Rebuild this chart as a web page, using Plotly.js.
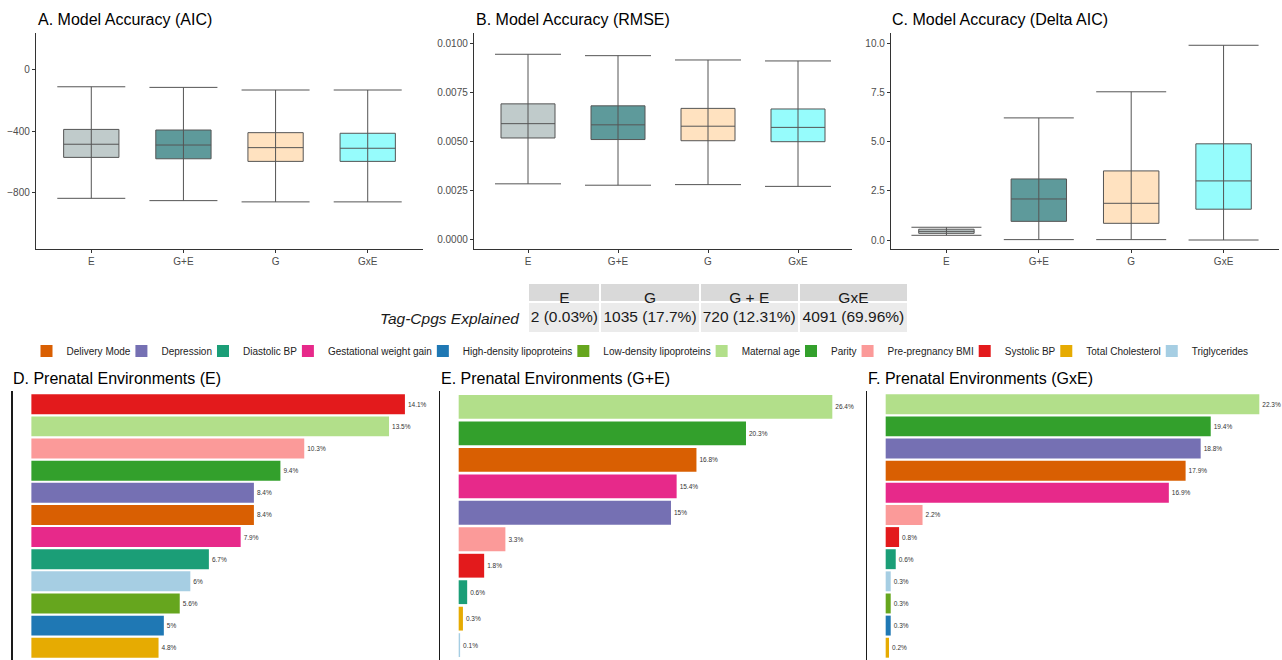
<!DOCTYPE html>
<html>
<head>
<meta charset="utf-8">
<script src="https://cdn.plot.ly/plotly-3.0.1.min.js"></script>
<style>html,body{margin:0;padding:0;background:#fff}#chart{width:1282px;height:660px}</style>
</head>
<body>
<div id="chart"></div>
<script>
// ---------------- data ----------------
const boxCats = ['E', 'G+E', 'G', 'GxE'];

const aicLow  = [-835, -850, -858, -858];
const aicQ1   = [-570, -579, -596, -596];
const aicMed  = [-485, -490, -507, -511];
const aicQ3   = [-389, -393, -410, -414];
const aicHigh = [-113, -117, -134, -134];

const rmseLow  = [0.00283, 0.00276, 0.00279, 0.00270];
const rmseQ1   = [0.00517, 0.00509, 0.00503, 0.00498];
const rmseMed  = [0.00590, 0.00584, 0.00577, 0.00571];
const rmseQ3   = [0.00691, 0.00681, 0.00668, 0.00665];
const rmseHigh = [0.00944, 0.00937, 0.00915, 0.00910];

const daicLow  = [0.24, 0.02, 0.02, 0.00];
const daicQ1   = [0.34, 0.95, 0.85, 1.57];
const daicMed  = [0.44, 2.09, 1.87, 3.01];
const daicQ3   = [0.55, 3.11, 3.52, 4.90];
const daicHigh = [0.65, 6.22, 7.55, 9.92];

const tableGroups   = ['E', 'G', 'G + E', 'GxE'];
const tableCounts   = [2, 1035, 720, 4091];
const tablePercents = [0.03, 17.7, 12.31, 69.96];
const tableRowLabel = 'Tag-Cpgs Explained';

const envCategories = ['Delivery Mode', 'Depression', 'Diastolic BP', 'Gestational weight gain',
  'High-density lipoproteins', 'Low-density lipoproteins', 'Maternal age', 'Parity',
  'Pre-pregnancy BMI', 'Systolic BP', 'Total Cholesterol', 'Triglycerides'];
const envColors = ['#d95f02', '#7570b3', '#1b9e77', '#e7298a', '#1f78b4', '#66a61e',
  '#b2df8a', '#33a02c', '#fb9a99', '#e31a1c', '#e6ab02', '#a6cee3'];

const dEnv = ['Systolic BP', 'Maternal age', 'Pre-pregnancy BMI', 'Parity', 'Depression', 'Delivery Mode',
  'Gestational weight gain', 'Diastolic BP', 'Triglycerides', 'Low-density lipoproteins',
  'High-density lipoproteins', 'Total Cholesterol'];
const dPct = [14.1, 13.5, 10.3, 9.4, 8.4, 8.4, 7.9, 6.7, 6, 5.6, 5, 4.8];

const eEnv = ['Maternal age', 'Parity', 'Delivery Mode', 'Gestational weight gain', 'Depression',
  'Pre-pregnancy BMI', 'Systolic BP', 'Diastolic BP', 'Total Cholesterol', 'Triglycerides'];
const ePct = [26.4, 20.3, 16.8, 15.4, 15, 3.3, 1.8, 0.6, 0.3, 0.1];

const fEnv = ['Maternal age', 'Parity', 'Depression', 'Delivery Mode', 'Gestational weight gain',
  'Pre-pregnancy BMI', 'Systolic BP', 'Diastolic BP', 'Triglycerides', 'Low-density lipoproteins',
  'High-density lipoproteins', 'Total Cholesterol'];
const fPct = [22.3, 19.4, 18.8, 17.9, 16.9, 2.2, 0.8, 0.6, 0.3, 0.3, 0.3, 0.2];

// ---------------- styling / layout helpers ----------------
const W = 1282, H = 660;
const FONT = 'Liberation Sans, Arial, sans-serif';
const px = x => x / W;
const py = y => 1 - y / H;
const nb = s => String(s).replace(/ /g, '\u00a0');
const boxFills = ['rgba(158,175,175,0.65)', 'rgba(8,100,102,0.65)', 'rgba(255,211,158,0.65)', 'rgba(94,251,251,0.65)'];

const traces = [];

const boxPanels = [
  {xa: 'x', ya: 'y', lo: aicLow, q1: aicQ1, med: aicMed, q3: aicQ3, hi: aicHigh, cap: 34},
  {xa: 'x2', ya: 'y2', lo: rmseLow, q1: rmseQ1, med: rmseMed, q3: rmseQ3, hi: rmseHigh, cap: 33},
  {xa: 'x3', ya: 'y3', lo: daicLow, q1: daicQ1, med: daicMed, q3: daicQ3, hi: daicHigh, cap: 35}
];
boxPanels.forEach(p => {
  traces.push({
    type: 'scatter', mode: 'markers', x: boxCats, y: p.med, xaxis: p.xa, yaxis: p.ya,
    marker: {size: 1, opacity: 0}, showlegend: false, hoverinfo: 'skip',
    error_y: {type: 'data', symmetric: false,
      array: p.hi.map((v, i) => v - p.med[i]), arrayminus: p.med.map((v, i) => v - p.lo[i]),
      width: p.cap, thickness: 1, color: '#555'}
  });
  boxCats.forEach((c, i) => {
    traces.push({
      type: 'box', x: [c], q1: [p.q1[i]], median: [p.med[i]], q3: [p.q3[i]],
      lowerfence: [p.q1[i]], upperfence: [p.q3[i]], xaxis: p.xa, yaxis: p.ya,
      fillcolor: boxFills[i], line: {color: '#555', width: 1}, width: 0.6, whiskerwidth: 0,
      showlegend: false, hoverinfo: 'skip', name: c
    });
  });
});

// legend entry widths measured from the label text
const LEG_FONT = 10;
const ctx = document.createElement('canvas').getContext('2d');
ctx.font = LEG_FONT + 'px "Liberation Sans"';
const tw = s => ctx.measureText(s).width;

const barPanels = [
  {xa: 'x4', ya: 'y4', cats: dEnv, vals: dPct},
  {xa: 'x5', ya: 'y5', cats: eEnv, vals: ePct},
  {xa: 'x6', ya: 'y6', cats: fEnv, vals: fPct}
];
envCategories.forEach((c, ci) => {
  barPanels.forEach((p, pi) => {
    const k = p.cats.indexOf(c);
    if (k < 0) return;
    traces.push({
      type: 'bar', orientation: 'h', x: [p.vals[k]], y: [c], xaxis: p.xa, yaxis: p.ya,
      width: 0.9, marker: {color: envColors[ci], line: {width: 0}},
      text: [p.vals[k] + '%'], textposition: 'outside', textangle: 0, constraintext: 'none',
      cliponaxis: false, textfont: {size: 6.5, color: '#333'},
      name: c, legendgroup: c, showlegend: pi === 0,
      legendwidth: ci === envCategories.length - 1 ? tw(c) + 2 : Math.max(1, tw(c) - 14),
      hoverinfo: 'x+y'
    });
  });
});

traces.push({
  type: 'table',
  domain: {x: [px(376), px(908)], y: [py(332), py(283)]},
  columnwidth: [152, 72, 99, 99, 109],
  header: {
    values: [''].concat(tableGroups.map(nb)),
    fill: {color: ['rgba(0,0,0,0)'].concat(tableGroups.map(() => '#d9d9d9'))},
    line: {color: 'white', width: 2}, align: 'center', height: 19,
    font: {size: 15.5, color: '#1a1a1a', family: FONT}
  },
  cells: {
    values: [['<i>' + nb(tableRowLabel) + '</i>']].concat(tableCounts.map((c, i) => [nb(c + ' (' + tablePercents[i] + '%)')])),
    fill: {color: ['rgba(0,0,0,0)'].concat(tableGroups.map(() => '#ebebeb'))},
    line: {color: 'white', width: 2}, align: ['right', 'center', 'center', 'center', 'center'], height: 23,
    font: {size: 15.5, color: '#1a1a1a', family: FONT}
  }
});

function boxX(x0, x1) {
  return {domain: [px(x0), px(x1)], type: 'category', categoryorder: 'array', categoryarray: boxCats,
    range: [-0.6, 3.6], showline: true, linecolor: '#333', linewidth: 1.2, ticks: 'outside', ticklen: 3,
    tickcolor: '#333', tickfont: {size: 10, color: '#4d4d4d'}, showgrid: false, zeroline: false, fixedrange: true};
}
function boxY(range, tickvals, fmt) {
  return {domain: [py(249), py(33)], range: range, tickvals: tickvals, tickformat: fmt,
    showline: true, linecolor: '#333', linewidth: 1.2, ticks: 'outside', ticklen: 3, tickcolor: '#333',
    tickfont: {size: 10, color: '#4d4d4d'}, showgrid: false, zeroline: false, fixedrange: true};
}
function barX(x0, x1, vals) {
  const m = Math.max.apply(null, vals);
  return {domain: [px(x0), px(x1)], range: [-0.05 * m, 1.05 * m], visible: false, fixedrange: true};
}
function barY(cats) {
  const n = cats.length;
  const bottom = -0.6 + (n + 0.2) * (660 - 391) / 270;
  return {domain: [0, py(391)], type: 'category', categoryorder: 'array', categoryarray: cats,
    range: [bottom, -0.6], showline: true, linecolor: '#1a1a1a', linewidth: 1.5, showticklabels: false,
    ticks: '', showgrid: false, zeroline: false, fixedrange: true};
}

function title(text, x, y) {
  return {text: text, xref: 'paper', yref: 'paper', x: px(x), y: py(y), xanchor: 'left', yanchor: 'middle',
    showarrow: false, font: {size: 16, color: '#000', family: FONT}};
}

const layout = {
  width: W, height: H, margin: {l: 0, r: 0, t: 0, b: 0},
  paper_bgcolor: 'white', plot_bgcolor: 'white',
  font: {family: FONT, color: '#333'},
  barmode: 'overlay', boxmode: 'overlay',
  showlegend: true,
  legend: {orientation: 'h', x: 0.5, xanchor: 'center', y: py(351), yanchor: 'middle',
    font: {size: LEG_FONT, color: '#222', family: FONT}, bgcolor: 'rgba(0,0,0,0)', itemwidth: 30,
    traceorder: 'normal', tracegroupgap: 0},
  xaxis: Object.assign(boxX(36, 423), {anchor: 'y'}),
  yaxis: Object.assign(boxY([-1163, 235], [-800, -400, 0], 'd'), {anchor: 'x'}),
  xaxis2: Object.assign(boxX(474, 852), {anchor: 'y2'}),
  yaxis2: Object.assign(boxY([-0.000495, 0.010526], [0, 0.0025, 0.005, 0.0075, 0.01], '.4f'), {anchor: 'x2'}),
  xaxis3: Object.assign(boxX(891, 1279), {anchor: 'y3'}),
  yaxis3: Object.assign(boxY([-0.458, 10.545], [0, 2.5, 5, 7.5, 10], '.1f'), {anchor: 'x3'}),
  xaxis4: Object.assign(barX(12.7, 423.6, dPct), {anchor: 'y4'}),
  yaxis4: Object.assign(barY(dEnv), {anchor: 'x4'}),
  xaxis5: Object.assign(barX(440, 851, ePct), {anchor: 'y5'}),
  yaxis5: Object.assign(barY(eEnv), {anchor: 'x5'}),
  xaxis6: Object.assign(barX(867, 1278, fPct), {anchor: 'y6'}),
  yaxis6: Object.assign(barY(fEnv), {anchor: 'x6'}),
  annotations: [
    title('A. Model Accuracy (AIC)', 36, 19),
    title('B. Model Accuracy (RMSE)', 474, 19),
    title('C. Model Accuracy (Delta AIC)', 890, 19),
    title('D. Prenatal Environments (E)', 11, 378),
    title('E. Prenatal Environments (G+E)', 439, 378),
    title('F. Prenatal Environments (GxE)', 866, 378)
  ]
};

Plotly.newPlot('chart', traces, layout, {staticPlot: true, displayModeBar: false});
</script>
</body>
</html>
